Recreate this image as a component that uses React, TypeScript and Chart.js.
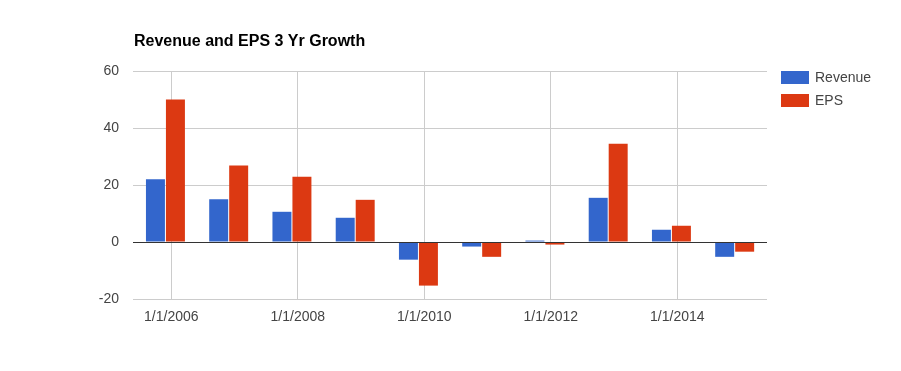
import React, { useEffect, useRef } from "react";
import { Chart, registerables } from "chart.js";

Chart.register(...registerables);

const title = "Revenue and EPS 3 Yr Growth";
const dates = [
  "2005-11-28", "2006-11-28", "2007-11-28", "2008-11-28", "2009-11-28",
  "2010-11-28", "2011-11-28", "2012-11-28", "2013-11-28", "2014-11-28",
];
const revenue = [22, 15, 10.6, 8.5, -6.2, -1.6, 0.5, 15.5, 4.3, -5.2];
const eps = [50, 26.8, 22.9, 14.8, -15.3, -5.2, -0.9, 34.5, 5.7, -3.4];
const xTickYears = [2006, 2008, 2010, 2012, 2014];
const yTicks = [-20, 0, 20, 40, 60];
const seriesNames = ["Revenue", "EPS"];
const colors = ["#3366cc", "#dc3912"];

function toYear(s: string): number {
  const [y, m, d] = s.split("-").map(Number);
  const start = Date.UTC(y, 0, 1);
  const end = Date.UTC(y + 1, 0, 1);
  return y + (Date.UTC(y, m - 1, d) - start) / (end - start);
}

const FONT = "Arial, 'Liberation Sans', sans-serif";

export default function App() {
  const ref = useRef<HTMLCanvasElement | null>(null);
  useEffect(() => {
    if (!ref.current) return;
    const xs = dates.map(toYear);
    const overlay = {
      id: "overlay",
      afterDatasetsDraw(chart: any) {
        const { ctx, chartArea, scales } = chart;
        const y0 = Math.round(scales.y.getPixelForValue(0)) + 0.5;
        ctx.save();
        ctx.strokeStyle = "#333333";
        ctx.lineWidth = 1;
        ctx.beginPath();
        ctx.moveTo(chartArea.left, y0);
        ctx.lineTo(chartArea.right, y0);
        ctx.stroke();
        ctx.restore();
      },
      afterDraw(chart: any) {
        const { ctx, chartArea } = chart;
        ctx.save();
        ctx.fillStyle = "#000000";
        ctx.font = `bold 16px ${FONT}`;
        ctx.textBaseline = "alphabetic";
        ctx.textAlign = "left";
        ctx.fillText(title, chartArea.left + 1, 38);
        const lx = chartArea.right + 14;
        ctx.font = `14px ${FONT}`;
        ctx.textBaseline = "middle";
        seriesNames.forEach((name, i) => {
          const top = chartArea.top + i * 23;
          ctx.fillStyle = colors[i];
          ctx.fillRect(lx, top, 28, 13);
          ctx.fillStyle = "#444444";
          ctx.fillText(name, lx + 34, top + 7);
        });
        ctx.restore();
      },
    };
    const chart = new Chart(ref.current, {
      type: "bar",
      data: {
        datasets: [
          {
            label: seriesNames[0],
            data: xs.map((x, i) => ({ x, y: revenue[i] })),
            backgroundColor: colors[0],
          },
          {
            label: seriesNames[1],
            data: xs.map((x, i) => ({ x, y: eps[i] })),
            backgroundColor: colors[1],
          },
        ],
      } as any,
      options: {
        animation: false,
        responsive: false,
        maintainAspectRatio: false,
        layout: { padding: { top: 63, right: 126, left: 0, bottom: 0 } },
        datasets: {
          bar: { categoryPercentage: 0.632, barPercentage: 0.95 },
        } as any,
        plugins: {
          legend: { display: false },
          title: { display: false },
          tooltip: { enabled: false },
        },
        scales: {
          x: {
            type: "linear",
            min: 2005.394,
            max: 2015.418,
            offset: false,
            border: { display: false },
            grid: { color: "#cccccc", drawTicks: false, offset: false },
            afterBuildTicks: (s: any) => {
              s.ticks = xTickYears.map((v) => ({ value: v }));
            },
            afterFit: (s: any) => {
              s.height = 64;
            },
            ticks: {
              padding: 10,
              color: "#444444",
              font: { family: FONT, size: 14 },
              maxRotation: 0,
              autoSkip: false,
              callback: (v: any) => `1/1/${v}`,
            },
          },
          y: {
            type: "linear",
            min: -20,
            max: 60,
            border: { display: false },
            grid: {
              color: (c: any) => (c.tick && c.tick.value === 0 ? "#333333" : "#cccccc"),
              drawTicks: false,
            },
            afterBuildTicks: (s: any) => {
              s.ticks = yTicks.map((v) => ({ value: v }));
            },
            afterFit: (s: any) => {
              s.width = 125;
            },
            ticks: {
              padding: 14,
              color: "#444444",
              font: { family: FONT, size: 14 },
            },
          },
        },
      } as any,
      plugins: [overlay],
    });
    return () => chart.destroy();
  }, []);
  return (
    <canvas
      ref={ref}
      width={885}
      height={355}
      style={{ display: "block", width: 885, height: 355 }}
    />
  );
}
